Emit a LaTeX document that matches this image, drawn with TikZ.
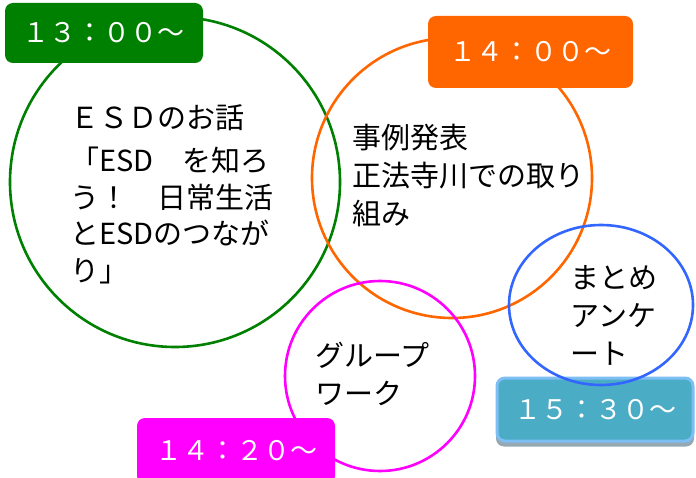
\documentclass[tikz,border=0pt]{standalone}
\usepackage{xcolor}
\usepackage{fontspec}
\setmainfont{Noto Sans CJK JP}
\usepackage{tikz}
\usetikzlibrary{shapes.geometric}
\definecolor{esdgreen}{RGB}{0,128,0}
\definecolor{caseorange}{RGB}{255,102,0}
\definecolor{workmagenta}{RGB}{255,0,255}
\definecolor{sumblue}{RGB}{51,102,255}
\definecolor{endteal}{RGB}{75,172,198}
\definecolor{endedge}{RGB}{125,190,245}
\definecolor{endshadow}{RGB}{150,168,178}

\begin{document}
\begin{tikzpicture}[
    x=1pt, y=1pt,
    ring/.style={circle, draw=#1, line width=2.6pt, inner sep=0pt},
    oval/.style={ellipse, draw=#1, line width=2.6pt, inner sep=0pt},
    timebox/.style={rectangle, fill=#1, text=white, rounded corners=8pt, inner sep=0pt, font=\fontsize{27}{30}\selectfont},
    talk/.style={anchor=north west, align=left, inner sep=0pt, font=\fontsize{29}{38}\selectfont}
]

\useasboundingbox (0,0) rectangle (696,477);

\node[ring=esdgreen, minimum size=330pt] (esd) at (175,295) {};
\node[ring=caseorange, minimum size=280pt] (case) at (452,299) {};
\node[ring=workmagenta, minimum size=190pt] (work) at (380,101) {};

\node[timebox=esdgreen, minimum width=198pt, minimum height=60pt] (t1300) at (104,444) {１３：００～};
\node[timebox=caseorange, minimum width=205pt, minimum height=72pt] (t1400) at (530.5,425) {１４：００～};
\node[timebox=workmagenta, minimum width=198pt, minimum height=66pt] (t1420) at (236,26) {１４：２０～};
\node[rectangle, fill=endshadow, rounded corners=8pt, minimum width=198pt, minimum height=63pt] (t1530shadow) at (595,62) {};
\node[timebox=endteal, draw=endedge, line width=3pt, minimum width=196pt, minimum height=63pt] (t1530) at (595,67.5) {１５：３０～};

\node[oval=sumblue, minimum width=184pt, minimum height=160pt] (sum) at (601,172) {};

\node[talk, font=\fontsize{29}{36.5}\selectfont] (esdtext) at (70,373) {ＥＳＤのお話\\[7pt]「ESD　を知ろ\\う！　日常生活\\とESDのつなが\\り」};
\node[talk] (casetext) at (352,353) {事例発表\\正法寺川での取り\\組み};
\node[talk] (worktext) at (315,135) {グループ\\ワーク};
\node[talk] (sumtext) at (570,212) {まとめ\\アンケ\\ート};

\end{tikzpicture}
\end{document}
